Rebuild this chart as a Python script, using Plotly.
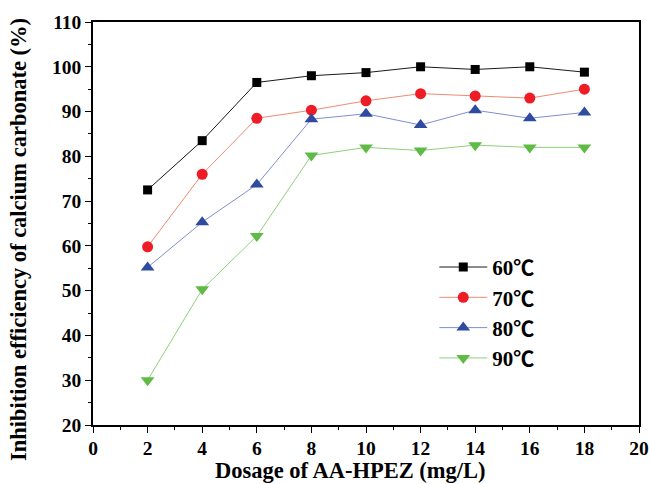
import plotly.graph_objects as go

# Dosage of AA-HPEZ (mg/L)
dosage = [2, 4, 6, 8, 10, 12, 14, 16, 18]

# Inhibition efficiency (%) at each temperature
eff_60 = [72.5, 83.5, 96.5, 98.0, 98.7, 100.0, 99.4, 100.0, 98.8]
eff_70 = [59.8, 76.0, 88.5, 90.3, 92.4, 94.0, 93.5, 93.0, 95.0]
eff_80 = [55.2, 65.3, 73.7, 88.3, 89.5, 87.0, 90.3, 88.5, 89.8]
eff_90 = [30.0, 50.3, 62.2, 80.2, 82.0, 81.3, 82.5, 82.0, 82.0]

series_names = ["60℃", "70℃", "80℃", "90℃"]

FONT = "Liberation Serif, DejaVu Serif, serif"
LEGEND_FONT = "Liberation Serif, Noto Sans CJK SC, serif"

styles = [
    dict(line="#1a1a1a", marker="#000000", symbol="square", size=9),
    dict(line="#f08a70", marker="#ee1c24", symbol="circle", size=11),
    dict(line="#7f8fd0", marker="#2e4b9f", symbol="triangle-up", size=12),
    dict(line="#8fd07a", marker="#5fbb46", symbol="triangle-down", size=12),
]

fig = go.Figure()
for name, vals, st in zip(series_names, [eff_60, eff_70, eff_80, eff_90], styles):
    fig.add_trace(go.Scatter(
        x=dosage, y=vals, name=name, mode="lines+markers",
        line=dict(color=st["line"], width=1),
        marker=dict(symbol=st["symbol"], size=st["size"], color=st["marker"],
                    line=dict(width=0)),
    ))

axis_common = dict(
    showgrid=False, zeroline=False, showline=True, linecolor="#000000",
    linewidth=1.5, mirror=True, ticks="outside", ticklen=6, tickwidth=1.3,
    tickcolor="#000000", automargin=False,
    tickfont=dict(family=FONT, size=19.5, color="#000000", weight="bold"),
    minor=dict(ticks="outside", ticklen=3, tickwidth=1.3, tickcolor="#000000"),
)

fig.update_xaxes(
    range=[0, 20], tickmode="array", tickvals=list(range(0, 21, 2)),
    minor_dtick=1, ticklabelstandoff=-1, **axis_common,
)
fig.update_yaxes(
    range=[20, 110], tickmode="array", tickvals=list(range(20, 111, 10)),
    minor_dtick=5, **axis_common,
)

# Axis titles placed as annotations so they can sit exactly where wanted
title_font = dict(family=FONT, color="#000000", weight="bold")
fig.add_annotation(
    text="Dosage of AA-HPEZ (mg/L)", xref="paper", yref="paper",
    x=0.4725, y=-0.113, xanchor="center", yanchor="middle", showarrow=False,
    font=dict(size=22.5, **title_font),
)
fig.add_annotation(
    text="Inhibition efficiency of calcium carbonate (%)", xref="paper", yref="paper",
    x=-0.1374, y=0.4615, xanchor="center", yanchor="middle", showarrow=False,
    textangle=-90, font=dict(size=22.5, **title_font),
)

fig.update_layout(
    width=649, height=484,
    margin=dict(l=93, r=10, t=22, b=59),
    plot_bgcolor="#ffffff", paper_bgcolor="#ffffff",
    font=dict(family=FONT, color="#000000"),
    legend=dict(
        x=0.625, y=0.442, xanchor="left", yanchor="top",
        bgcolor="rgba(0,0,0,0)", borderwidth=0,
        font=dict(family=LEGEND_FONT, size=21, color="#000000", weight="bold"),
        tracegroupgap=0, itemwidth=48,
    ),
    showlegend=True,
)

fig.write_html("out.html")
